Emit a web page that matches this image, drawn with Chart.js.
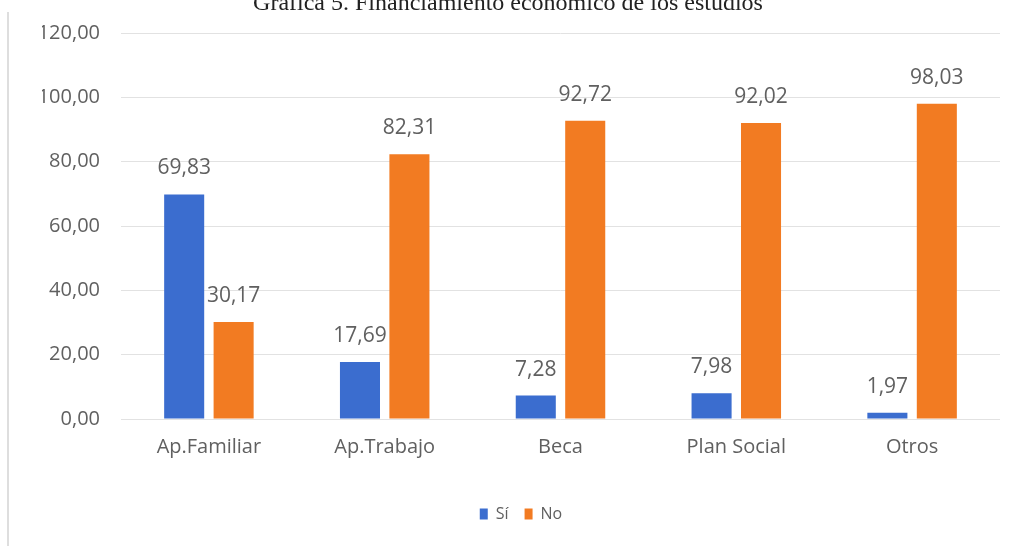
<!DOCTYPE html>
<html lang="es">
<head>
<meta charset="utf-8">
<title>Gráfica 5</title>
<script src="https://cdn.jsdelivr.net/npm/chart.js@4.4.1/dist/chart.umd.min.js"></script>
<style>
    html, body {
        margin: 0;
        padding: 0;
        background: #fff;
        overflow: hidden;
    }
    .wrap {
        position: relative;
        width: 1016px;
        height: 546px;
    }
    .title {
        position: absolute;
        left: 0;
        right: 0;
        top: -10px;
        text-align: center;
        font-family: "Liberation Serif", serif;
        font-size: 24px;
        line-height: 24px;
        color: #222;
    }
    .frame {
        position: absolute;
        left: 7px;
        top: 12px;
        bottom: 0;
        width: 2px;
        background: #dedede;
    }
    canvas {
        position: absolute;
        left: 0;
        top: 0;
    }
</style>
</head>
<body>
<div class="wrap">
    <div class="frame"></div>
    <canvas id="chart" width="1016" height="546"></canvas>
    <div class="title">Gráfica 5. Financiamiento económico de los estudios</div>
</div>
<script>
const categories = ['Ap.Familiar', 'Ap.Trabajo', 'Beca', 'Plan Social', 'Otros'];
const siValues = [69.83, 17.69, 7.28, 7.98, 1.97];
const noValues = [30.17, 82.31, 92.72, 92.02, 98.03];
const yMax = 120;
const yStep = 20;

const textColor = '#606060';
const fmt = (v) => v.toFixed(2).replace('.', ',');

// value labels above each bar
const valueLabels = {
    id: 'valueLabels',
    afterDatasetsDraw(chart) {
        const ctx = chart.ctx;
        ctx.save();
        ctx.font = '21px "Open Sans", sans-serif';
        ctx.fillStyle = textColor;
        ctx.textAlign = 'center';
        ctx.textBaseline = 'alphabetic';
        chart.data.datasets.forEach((ds, i) => {
            const meta = chart.getDatasetMeta(i);
            meta.data.forEach((bar, j) => {
                ctx.fillText(fmt(ds.data[j]), bar.x, bar.y - 20);
            });
        });
        ctx.restore();
    }
};

new Chart(document.getElementById('chart'), {
    type: 'bar',
    data: {
        labels: categories,
        datasets: [
            {
                label: 'Sí',
                data: siValues,
                backgroundColor: '#3b6dcf'
            },
            {
                label: 'No',
                data: noValues,
                backgroundColor: '#f27b22'
            }
        ]
    },
    plugins: [valueLabels],
    options: {
        responsive: false,
        animation: false,
        datasets: {
            bar: {
                categoryPercentage: 0.5625,
                barPercentage: 0.81
            }
        },
        layout: {
            padding: { left: 42, right: 16, top: 33, bottom: 14 }
        },
        plugins: {
            legend: {
                position: 'bottom',
                labels: {
                    boxWidth: 8,
                    boxHeight: 11,
                    padding: 16,
                    color: textColor,
                    font: { family: '"Open Sans", sans-serif', size: 16 }
                }
            },
            tooltip: { enabled: false },
            title: { display: false }
        },
        scales: {
            x: {
                grid: { display: false },
                border: { display: false },
                afterFit(scale) {
                    scale.height += 23;
                },
                ticks: {
                    color: textColor,
                    padding: 8,
                    font: { family: '"Open Sans", sans-serif', size: 20 }
                }
            },
            y: {
                min: 0,
                max: yMax,
                afterFit(scale) {
                    scale.width = 79;
                },
                grid: {
                    color: '#e2e2e2',
                    drawTicks: false
                },
                border: { display: false },
                ticks: {
                    stepSize: yStep,
                    padding: 21,
                    color: textColor,
                    font: { family: '"Open Sans", sans-serif', size: 20 },
                    callback: (v) => fmt(v)
                }
            }
        }
    }
});
</script>
</body>
</html>
